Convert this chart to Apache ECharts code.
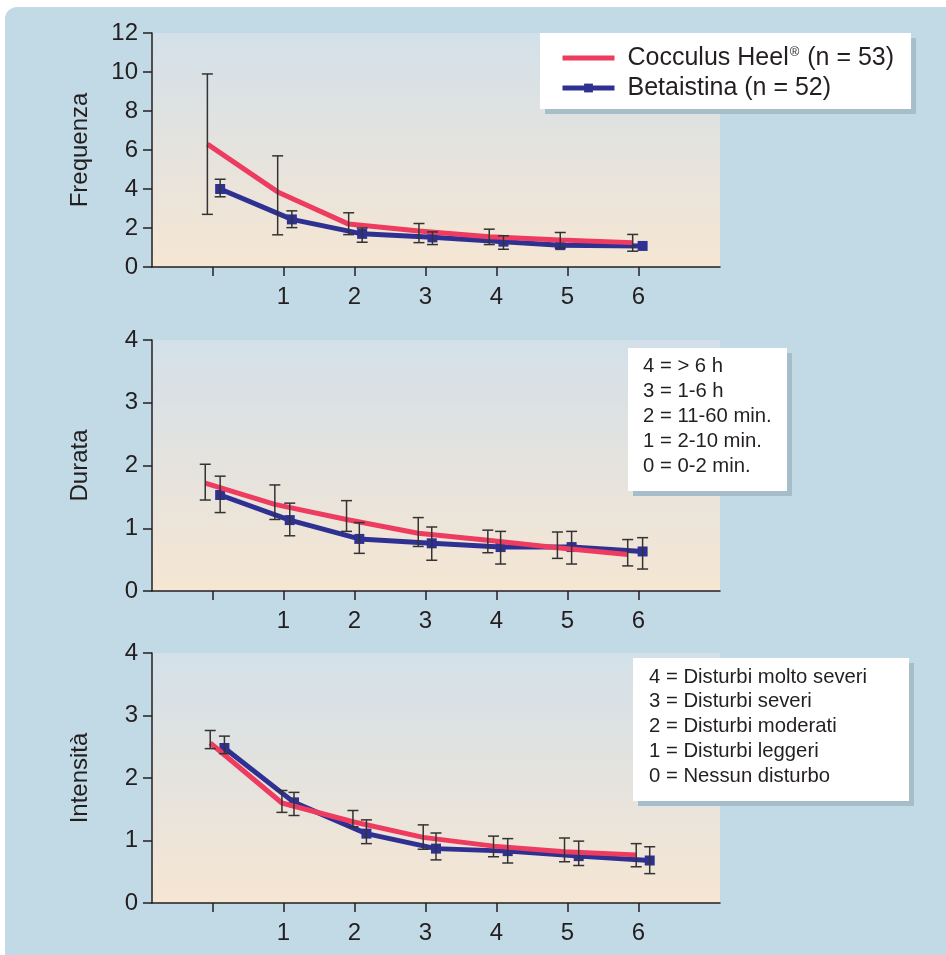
<!DOCTYPE html>
<html><head><meta charset="utf-8">
<script src="https://cdn.jsdelivr.net/npm/echarts@6/dist/echarts.min.js"></script>
<style>
html,body{margin:0;padding:0;background:#fff;}
#bg{position:absolute;left:5px;top:7px;width:941px;height:948px;background:#c2dae6;border-top-left-radius:12px;}
#c{position:absolute;left:0;top:0;width:946px;height:955px;}
</style>
</head><body><div id="bg"></div><div id="c"></div>
<script>
// ---- data ----
const tickValues = [0, 1, 2, 3, 4, 5, 6];
const labelValues = [1, 2, 3, 4, 5, 6];
const seriesNames = ['Cocculus Heel® (n = 53)', 'Betaistina (n = 52)'];
const axisNames = ['Frequenza', 'Durata', 'Intensità'];

// Panel 1 – Frequenza
const freqRedX = [-0.07, 0.92, 1.92, 2.91, 3.9, 4.9, 5.92];
const freqRed = [6.3, 3.85, 2.2, 1.85, 1.55, 1.38, 1.25];
const freqRedLow = [2.7, 1.65, 1.66, 1.25, 1.15, 0.97, 0.81];
const freqRedHigh = [9.9, 5.7, 2.78, 2.23, 1.94, 1.77, 1.67];
const freqBlueX = [0.11, 1.12, 2.11, 3.1, 4.1, 4.9, 6.06];
const freqBlue = [4.0, 2.44, 1.7, 1.52, 1.3, 1.12, 1.08];
const freqBlueLow = [3.6, 2.02, 1.27, 1.15, 0.91, null, null];
const freqBlueHigh = [4.5, 2.88, 2.0, 1.8, 1.6, null, null];

// Panel 2 – Durata
const durRedX = [-0.1, 0.88, 1.89, 2.9, 3.88, 4.86, 5.85];
const durRed = [1.72, 1.38, 1.14, 0.92, 0.81, 0.69, 0.58];
const durRedLow = [1.45, 1.14, 0.95, 0.71, 0.61, 0.52, 0.40];
const durRedHigh = [2.02, 1.69, 1.44, 1.17, 0.97, 0.94, 0.82];
const durBlueX = [0.11, 1.09, 2.07, 3.09, 4.06, 5.06, 6.06];
const durBlue = [1.53, 1.13, 0.83, 0.76, 0.70, 0.70, 0.63];
const durBlueLow = [1.25, 0.88, 0.60, 0.49, 0.43, 0.43, 0.35];
const durBlueHigh = [1.83, 1.40, 1.09, 1.02, 0.95, 0.95, 0.85];

// Panel 3 – Intensità
const intRedX = [-0.03, 0.98, 1.98, 2.97, 3.96, 4.96, 5.97];
const intRed = [2.56, 1.60, 1.30, 1.05, 0.91, 0.82, 0.77];
const intRedLow = [2.47, 1.45, 1.22, 0.86, 0.74, 0.66, 0.58];
const intRedHigh = [2.76, 1.80, 1.48, 1.25, 1.07, 1.04, 0.95];
const intBlueX = [0.17, 1.15, 2.17, 3.15, 4.16, 5.16, 6.16];
const intBlue = [2.48, 1.61, 1.11, 0.87, 0.83, 0.75, 0.68];
const intBlueLow = [2.39, 1.40, 0.95, 0.69, 0.64, 0.60, 0.47];
const intBlueHigh = [2.67, 1.77, 1.33, 1.12, 1.03, 0.99, 0.90];

const yMax = [12, 4, 4];
const yInterval = [2, 1, 1];

const durataScale = ['4 = > 6 h', '3 = 1-6 h', '2 = 11-60 min.', '1 = 2-10 min.', '0 = 0-2 min.'];
const intensitaScale = ['4 = Disturbi molto severi', '3 = Disturbi severi', '2 = Disturbi moderati', '1 = Disturbi leggeri', '0 = Nessun disturbo'];

// ---- build ----
const FONT = 'Liberation Sans, Arial, Helvetica, sans-serif';
const INK = '#231f20';
const RED = '#ee3c61';
const BLUE = '#2e3192';

const panels = [
  {rx: freqRedX, r: freqRed, rl: freqRedLow, rh: freqRedHigh, bx: freqBlueX, b: freqBlue, bl: freqBlueLow, bh: freqBlueHigh},
  {rx: durRedX, r: durRed, rl: durRedLow, rh: durRedHigh, bx: durBlueX, b: durBlue, bl: durBlueLow, bh: durBlueHigh},
  {rx: intRedX, r: intRed, rl: intRedLow, rh: intRedHigh, bx: intBlueX, b: intBlue, bl: intBlueLow, bh: intBlueHigh}
];

const gridBox = [
  {left: 152, top: 33, width: 568, height: 234},
  {left: 152, top: 340, width: 568, height: 251},
  {left: 152, top: 653, width: 568, height: 250}
];

const plotBg = new echarts.graphic.LinearGradient(0, 0, 0, 1, [
  {offset: 0, color: '#d3e0e9'},
  {offset: 1, color: '#f6e6d3'}
]);

function errRender(params, api) {
  const x = api.value(0), lo = api.value(1), hi = api.value(2);
  if (lo == null || hi == null || isNaN(lo) || isNaN(hi)) return null;
  const a = api.coord([x, lo]), b = api.coord([x, hi]);
  const w = 5.5;
  const st = {stroke: '#333', lineWidth: 1.5};
  return {type: 'group', children: [
    {type: 'line', shape: {x1: a[0], y1: a[1], x2: b[0], y2: b[1]}, style: st},
    {type: 'line', shape: {x1: a[0] - w, y1: a[1], x2: a[0] + w, y2: a[1]}, style: st},
    {type: 'line', shape: {x1: b[0] - w, y1: b[1], x2: b[0] + w, y2: b[1]}, style: st}
  ]};
}

const grid = [], xAxis = [], yAxis = [], series = [];
panels.forEach((p, i) => {
  grid.push(Object.assign({show: true, backgroundColor: plotBg, borderWidth: 0}, gridBox[i]));
  xAxis.push({
    type: 'value', gridIndex: i, min: -0.85, max: 7.15,
    splitLine: {show: false},
    axisLine: {onZero: false, lineStyle: {color: INK, width: 1.5}},
    axisTick: {show: true, length: 9, customValues: tickValues, lineStyle: {color: INK, width: 1.5}},
    axisLabel: {customValues: labelValues, fontSize: 24, fontFamily: FONT, color: INK, margin: 18}
  });
  yAxis.push({
    type: 'value', gridIndex: i, min: 0, max: yMax[i], interval: yInterval[i],
    name: axisNames[i], nameLocation: 'middle', nameGap: 60,
    nameTextStyle: {fontSize: 24, fontFamily: FONT, color: INK},
    splitLine: {show: false},
    axisLine: {show: true, onZero: false, lineStyle: {color: INK, width: 1.5}},
    axisTick: {show: true, length: 9, lineStyle: {color: INK, width: 1.5}},
    axisLabel: {fontSize: 24, fontFamily: FONT, color: INK, margin: 14}
  });
  series.push({
    type: 'line', name: seriesNames[1], xAxisIndex: i, yAxisIndex: i,
    data: p.bx.map((x, k) => [x, p.b[k]]),
    symbol: 'rect', symbolSize: 10, showSymbol: true,
    lineStyle: {color: BLUE, width: 5}, itemStyle: {color: BLUE},
    z: 2, animation: false
  });
  series.push({
    type: 'line', name: seriesNames[0], xAxisIndex: i, yAxisIndex: i,
    data: p.rx.map((x, k) => [x, p.r[k]]),
    symbol: 'none',
    lineStyle: {color: RED, width: 5}, itemStyle: {color: RED},
    z: 3, animation: false
  });
  series.push({
    type: 'custom', xAxisIndex: i, yAxisIndex: i, renderItem: errRender,
    data: p.rx.map((x, k) => [x, p.rl[k], p.rh[k]]),
    encode: {x: 0, y: [1, 2]}, z: 4, silent: true, animation: false
  });
  series.push({
    type: 'custom', xAxisIndex: i, yAxisIndex: i, renderItem: errRender,
    data: p.bx.map((x, k) => [x, p.bl[k], p.bh[k]]),
    encode: {x: 0, y: [1, 2]}, z: 4, silent: true, animation: false
  });
});

function scaleBox(lines, x, y, w, h, textX, firstY, step) {
  const children = [
    {type: 'rect', shape: {x: x + 5, y: y + 5, width: w, height: h}, style: {fill: '#a7bdca'}},
    {type: 'rect', shape: {x: x, y: y, width: w, height: h}, style: {fill: '#ffffff'}}
  ];
  lines.forEach((t, k) => children.push({
    type: 'text', style: {text: t, x: textX, y: firstY + k * step, font: '20.3px ' + FONT, fill: INK, verticalAlign: 'middle'}
  }));
  return {type: 'group', children: children, z: 10};
}

const option = {
  backgroundColor: 'transparent',
  animation: false,
  grid, xAxis, yAxis, series,
  legend: {
    data: [
      {name: seriesNames[0], itemStyle: {opacity: 0}, lineStyle: {width: 5, color: RED}},
      {name: seriesNames[1], itemStyle: {color: BLUE}, lineStyle: {width: 5, color: BLUE}}
    ],
    orient: 'vertical', left: 540, top: 33,
    itemWidth: 52, itemHeight: 11, itemGap: 0,
    padding: [10, 17, 6, 20],
    backgroundColor: '#ffffff',
    shadowColor: '#a7bdca', shadowOffsetX: 5, shadowOffsetY: 5, shadowBlur: 0,
    selectedMode: false,
    lineStyle: {width: 5},
    formatter: function (name) {
      if (name.indexOf('®') >= 0) {
        const parts = name.split('®');
        return '{a|' + parts[0] + '}{s|®}{t|' + parts[1] + '}';
      }
      return '{a|' + name + '}';
    },
    textStyle: {
      fontSize: 25, fontFamily: FONT, color: INK, lineHeight: 30,
      rich: {
        a: {fontSize: 25, fontFamily: FONT, color: INK, lineHeight: 30, padding: [0, 0, 0, 8]},
        t: {fontSize: 25, fontFamily: FONT, color: INK, lineHeight: 30},
        s: {fontSize: 13, fontFamily: FONT, color: INK, lineHeight: 30, verticalAlign: 'top', padding: [3, 1, 0, 1]}
      }
    }
  },
  graphic: [
    scaleBox(durataScale, 628, 348, 159, 143, 643, 366, 25),
    scaleBox(intensitaScale, 633, 658, 276, 143, 649, 677, 24.8)
  ]
};

const chart = echarts.init(document.getElementById('c'), null, {renderer: 'canvas'});
chart.setOption(option);
</script>
</body></html>
